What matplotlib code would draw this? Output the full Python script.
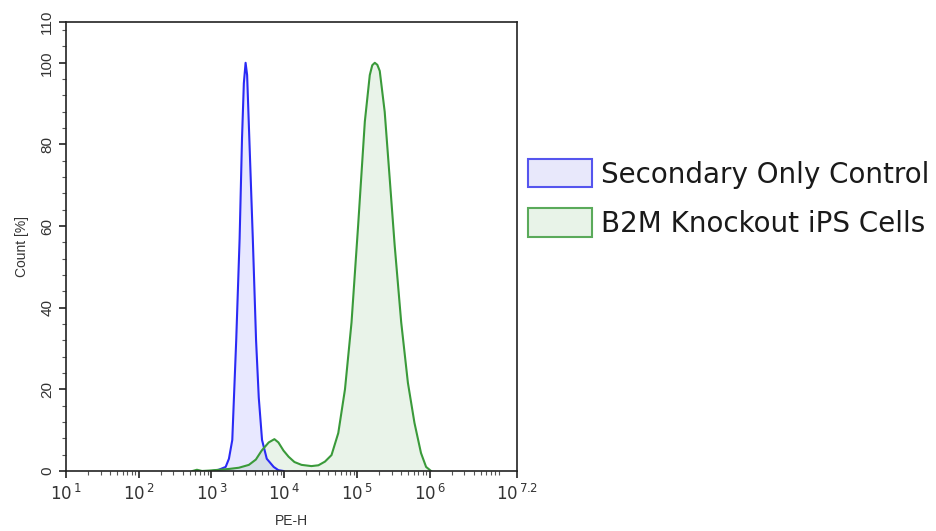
import numpy as np
import matplotlib.pyplot as plt
from matplotlib.ticker import FixedLocator, LogLocator, NullFormatter, MultipleLocator

# log10(PE-H) and count [%]
control_log = [3.01, 3.10, 3.195, 3.24, 3.286, 3.34, 3.387, 3.42, 3.445, 3.469,
               3.49, 3.52, 3.568, 3.613, 3.65, 3.695, 3.76, 3.855, 3.92, 3.99]
control_cnt = [0, 0.3, 1, 3, 7.6, 32, 57, 81.6, 95, 100,
               97, 81.6, 57, 32, 18, 7.6, 3, 1, 0.2, 0]

b2m_log = [2.74, 2.80, 2.87, 2.967, 3.104, 3.24, 3.377, 3.514, 3.61, 3.69, 3.787,
           3.865, 3.92, 3.99, 4.06, 4.14, 4.238, 4.374, 4.47, 4.56, 4.65, 4.743,
           4.835, 4.925, 5.016, 5.108, 5.176, 5.21, 5.245, 5.28, 5.313, 5.381,
           5.45, 5.518, 5.608, 5.70, 5.79, 5.88, 5.95, 6.018]
b2m_cnt = [0, 0.3, 0, 0.1, 0.3, 0.5, 0.8, 1.5, 2.8, 5, 7,
           7.8, 7, 5, 3.5, 2.2, 1.5, 1.2, 1.4, 2.3, 3.9, 9.3,
           20, 36.4, 60.2, 85.6, 97, 99.4, 100, 99.5, 98, 88,
           71.6, 55.3, 36.4, 21.6, 11.8, 4.4, 1, 0]

labels = ['Secondary Only Control', 'B2M Knockout iPS Cells']
xtick_exp = [1, 2, 3, 4, 5, 6, 7.2]
ytick_vals = [0, 20, 40, 60, 80, 100, 110]

fig = plt.figure(figsize=(9.37, 5.31), dpi=100)
ax = fig.add_axes([0.0704, 0.113, 0.4814, 0.8456])

cx = 10 ** np.array(control_log)
gx = 10 ** np.array(b2m_log)
ax.fill_between(cx, control_cnt, color='#0000ff', alpha=0.09, lw=0)
ax.plot(cx, control_cnt, color='#2a2af5', lw=1.5)
ax.fill_between(gx, b2m_cnt, color='#2e8b2e', alpha=0.1, lw=0)
ax.plot(gx, b2m_cnt, color='#3a9a3a', lw=1.5)

ax.set_xscale('log')
ax.set_xlim(10 ** 1, 10 ** 7.2)
ax.set_ylim(0, 110)

ax.xaxis.set_major_locator(FixedLocator([10 ** e for e in xtick_exp]))
ax.set_xticklabels([r'$10^{\,%g}$' % e for e in xtick_exp], family='Liberation Sans', fontsize=12)
ax.xaxis.set_minor_locator(LogLocator(base=10, subs=np.arange(2, 10), numticks=20))
ax.xaxis.set_minor_formatter(NullFormatter())

ax.yaxis.set_major_locator(FixedLocator(ytick_vals))
ax.yaxis.set_minor_locator(MultipleLocator(4))
ax.set_yticklabels([str(v) for v in ytick_vals], rotation=90, va='center',
                   family='Liberation Sans', fontsize=11)

ax.tick_params(which='major', length=5, width=1.2, color='#222222', labelcolor='#333333')
ax.tick_params(which='minor', length=3, width=0.8, color='#555555')
for s in ax.spines.values():
    s.set_color('#222222')
    s.set_linewidth(1.2)

ax.set_xlabel('PE-H', family='Liberation Sans', fontsize=10, color='#333333', labelpad=8)
ax.set_ylabel('Count [%]', family='Liberation Sans', fontsize=10, color='#333333', labelpad=8)

handles = [plt.Rectangle((0, 0), 1, 1, facecolor='#e8e8fb', edgecolor='#5555ee', lw=1.5),
           plt.Rectangle((0, 0), 1, 1, facecolor='#e8f3e8', edgecolor='#5aaa5a', lw=1.5)]
leg = fig.legend(handles, labels, loc='upper left', bbox_to_anchor=(528 / 937, 1 - 159 / 531),
                 frameon=False, fontsize=20, handlelength=2.3, handleheight=1.2,
                 handletextpad=0.33, labelspacing=0.7, borderpad=0, borderaxespad=0)
for t in leg.get_texts():
    t.set_color('#1a1a1a')

fig.savefig('out.png', dpi=100)
